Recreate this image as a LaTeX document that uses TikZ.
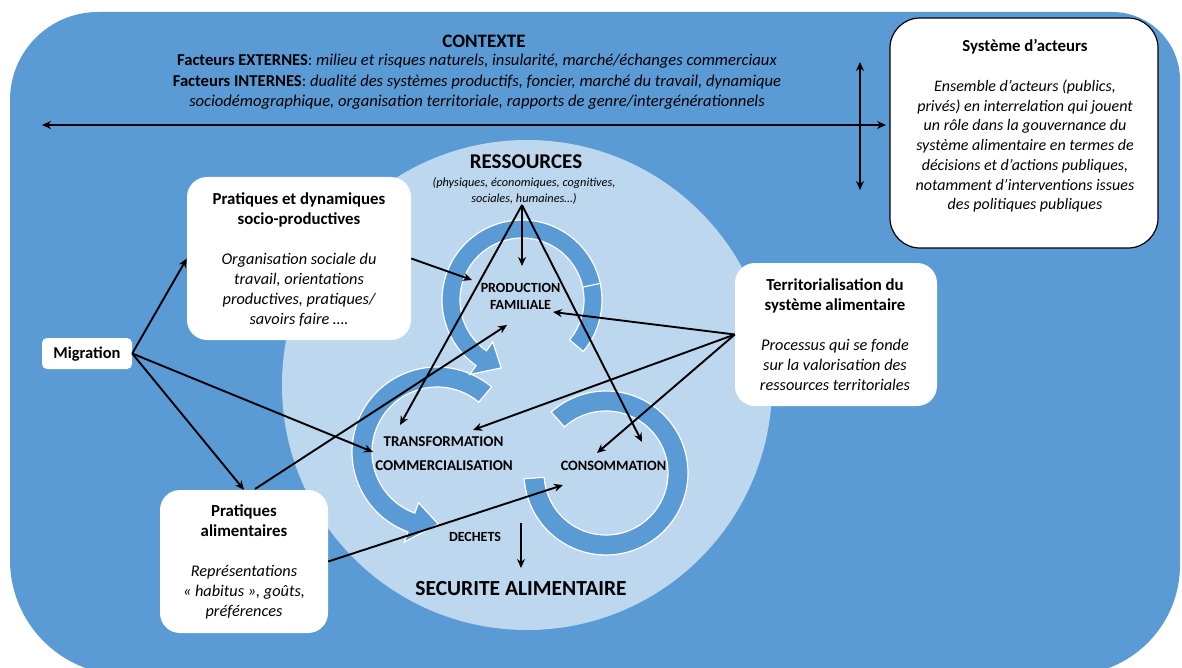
\documentclass[tikz,border=0pt]{standalone}
\usepackage{fontspec}
\setmainfont{Carlito}
\usetikzlibrary{arrows.meta}
\definecolor{outerblue}{HTML}{5B9BD5}
\definecolor{innerblue}{HTML}{BDD7EE}
\newcommand{\boxtitle}[1]{\textup{\textbf{\fontsize{16.8}{20}\selectfont #1}}}
\begin{document}
\begin{tikzpicture}[x=1pt,y=-1pt,
  conn/.style={line width=1.9pt,-{Stealth[length=9pt,width=8pt]}},
  dconn/.style={line width=1.9pt,{Stealth[length=9pt,width=8pt]}-{Stealth[length=9pt,width=8pt]}},
  wbox/.style={fill=white, rounded corners=20pt, inner sep=0pt},
  btext/.style={align=center, font=\itshape\fontsize{16.3}{20}\selectfont},
  band/.style={fill=outerblue, draw=white, line width=1.2pt},
  lab/.style={font=\bfseries\fontsize{15}{17}\selectfont, align=center}
]
\useasboundingbox (0,0) rectangle (1182,668);
\fill[white] (0,0) rectangle (1182,668);
% outer context shape
\fill[outerblue] (10,100) arc[start angle=180, end angle=270, radius=88] -- (1112,12)
  arc[start angle=-90,end angle=0,radius=68] -- (1180,565)
  arc[start angle=0,end angle=90,radius=110] -- (125,675)
  arc[start angle=90,end angle=180,radius=115] -- cycle;
% resources circle
\fill[innerblue] (527,385) circle[radius=245];
% rings
\begin{scope}[shift={(606,473)}]
\path[band] (176:82) arc[start angle=176,end angle=-132,radius=82] -- (-132:62)
  arc[start angle=-132,end angle=176,radius=62] -- cycle;
\end{scope}
\begin{scope}[shift={(437,452)}]
\path[band] (-50:85) arc[start angle=-50,end angle=-250,radius=85] -- (-250:96) -- (-271:72) -- (-250:54) -- (-250:65)
  arc[start angle=-250,end angle=-50,radius=65] -- cycle;
\end{scope}
\begin{scope}[shift={(522,300)}]
\path[band] (40:80) arc[start angle=40,end angle=-235,radius=80] -- (-235:91) -- (-253:71) -- (-235:51) -- (-235:62)
  arc[start angle=-235,end angle=40,radius=62] -- cycle;
\draw[white, line width=1.2pt] (-12:62) -- (-12:80);
\end{scope}
% boxes
\node[wbox, draw=black, line width=1.2pt, rounded corners=30pt, minimum width=268pt, minimum height=230pt] (acteurs) at (1024,133) {};
\node[wbox, minimum width=224pt, minimum height=163pt] (socio) at (299,258.5) {};
\node[wbox, minimum width=202pt, minimum height=143pt] (terr) at (836,334.5) {};
\node[wbox, rounded corners=5pt, minimum width=90pt, minimum height=31pt] (mig) at (87,353.5) {};
\node[wbox, minimum width=168pt, minimum height=143pt] (alim) at (244,561.5) {};
% box texts
\node[btext, font=\itshape\fontsize{16}{19.7}\selectfont] (acteurstxt) at (1025,126) {\boxtitle{Système d’acteurs}\\[20pt]
Ensemble d’acteurs (publics,\\ privés) en interrelation qui jouent\\ un rôle dans la gouvernance du\\ système alimentaire en termes de\\ décisions et d’actions publiques,\\ notamment d'interventions issues\\ des politiques publiques};
\node[btext] (sociotxt) at (299,260) {\boxtitle{Pratiques et dynamiques}\\ \boxtitle{socio-productives}\\[20pt]
Organisation sociale du\\ travail, orientations\\ productives, pratiques/\\ savoirs faire ….};
\node[btext] (terrtxt) at (835,335) {\boxtitle{Territorialisation du}\\ \boxtitle{système alimentaire}\\[20pt]
Processus qui se fonde\\ sur la valorisation des\\ ressources territoriales};
\node[font=\bfseries\fontsize{16.5}{19}\selectfont] (migtxt) at (87,354) {Migration};
\node[btext] (alimtxt) at (244,562) {\boxtitle{Pratiques}\\ \boxtitle{alimentaires}\\[20pt]
Représentations\\ « habitus », goûts,\\ préférences};
% context texts
\node[font=\bfseries\fontsize{19}{22}\selectfont] (ctxtitle) at (484,41) {CONTEXTE};
\node[align=center, font=\fontsize{16.6}{20.5}\selectfont] (ctxtext) at (477,82) {\textbf{Facteurs EXTERNES}: \textit{milieu et risques naturels, insularité, marché/échanges commerciaux}\\
\textbf{Facteurs INTERNES}: \textit{dualité des systèmes productifs, foncier, marché du travail, dynamique}\\
\textit{sociodémographique, organisation territoriale, rapports de genre/intergénérationnels}};
% resources
\node[font=\bfseries\fontsize{21}{24}\selectfont] (restitle) at (526,162) {RESSOURCES};
\node[align=center, font=\itshape\fontsize{12.3}{16}\selectfont] (ressub) at (524,191) {(physiques, économiques, cognitives,\\ sociales, humaines…)};
\node[lab, font=\bfseries\fontsize{14}{17}\selectfont] (prod) at (520.5,296) {PRODUCTION\\ FAMILIALE};
\node[lab] (trans) at (443.5,442) {TRANSFORMATION};
\node[lab] (comm) at (444,466) {COMMERCIALISATION};
\node[lab, font=\bfseries\fontsize{14.3}{17}\selectfont] (cons) at (613.5,466) {CONSOMMATION};
\node[font=\bfseries\fontsize{14}{16}\selectfont] (dech) at (475,537) {DECHETS};
\node[font=\bfseries\fontsize{21.5}{25}\selectfont] (secu) at (521,589) {SECURITE ALIMENTAIRE};
% coordinates
\coordinate (hleft) at (42,125);
\coordinate (hright) at (886,125);
\coordinate (vtop) at (860,62);
\coordinate (vbot) at (860,190);
\coordinate (resapex) at (522,205);
\coordinate (prodtop) at (522,266);
\coordinate (transtip) at (400,425);
\coordinate (constip) at (642,442);
\coordinate (prodright) at (553,312);
\coordinate (transright) at (473,430);
\coordinate (consleft) at (597,453);
\coordinate (prodleft) at (472,280);
\coordinate (prodlow) at (507,325);
\coordinate (conslow) at (563,485);
\coordinate (transleft) at (373,452);
\coordinate (dectop) at (521,523);
\coordinate (decbot) at (521,568);
\coordinate (alimsrc) at (255,489);
% connectors
\draw[dconn] (hleft) -- (hright);
\draw[dconn] (vtop) -- (vbot);
\draw[conn] (mig.east) -- (socio.west);
\draw[conn] (mig.east) -- (alim.north);
\draw[conn] (mig.east) -- (transleft);
\draw[conn] (alimsrc) -- (prodlow);
\draw[conn] (alim.east) -- (conslow);
\draw[conn] (socio.east) -- (prodleft);
\draw[conn] (resapex) -- (prodtop);
\draw[conn] (resapex) -- (transtip);
\draw[conn] (resapex) -- (constip);
\draw[conn] (terr.west) -- (prodright);
\draw[conn] (terr.west) -- (transright);
\draw[conn] (terr.west) -- (consleft);
\draw[conn] (dectop) -- (decbot);
\end{tikzpicture}
\end{document}
